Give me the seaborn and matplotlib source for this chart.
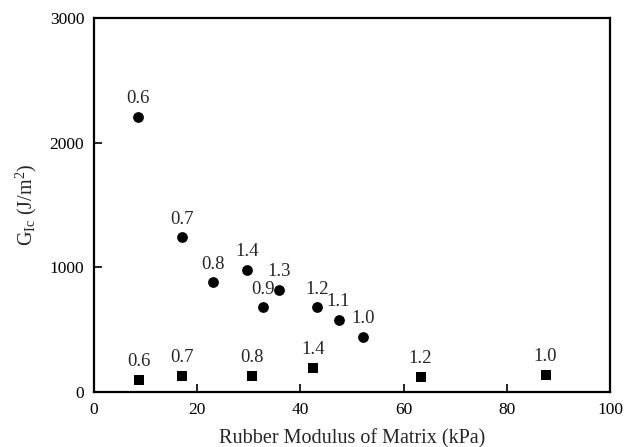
import matplotlib
matplotlib.use("Agg")
import matplotlib.pyplot as plt
import seaborn as sns
import pandas as pd

sns.set_theme(style="ticks")
plt.rcParams["font.family"] = ["Liberation Serif", "DejaVu Serif"]
plt.rcParams["mathtext.fontset"] = "custom"
plt.rcParams["mathtext.rm"] = "Liberation Serif"
plt.rcParams["mathtext.it"] = "Liberation Serif:italic"

# Circle series: modulus (kPa), G_Ic (J/m^2), labels
circle_modulus = [8.5, 17.0, 23.0, 29.6, 35.9, 32.8, 43.3, 47.4, 52.2]
circle_glc = [2205, 1240, 880, 978, 818, 680, 680, 577, 443]
circle_labels = ["0.6", "0.7", "0.8", "1.4", "1.3", "0.9", "1.2", "1.1", "1.0"]

# Square series
square_modulus = [8.8, 17.1, 30.6, 42.4, 63.3, 87.5]
square_glc = [95, 131, 131, 195, 123, 139]
square_labels = ["0.6", "0.7", "0.8", "1.4", "1.2", "1.0"]

circles = pd.DataFrame({"x": circle_modulus, "y": circle_glc, "lab": circle_labels})
squares = pd.DataFrame({"x": square_modulus, "y": square_glc, "lab": square_labels})

fig = plt.figure(figsize=(6.36, 4.47), dpi=100)
ax = fig.add_axes([94 / 636, 1 - 392 / 447, 516 / 636, 374 / 447])

sns.scatterplot(data=circles, x="x", y="y", ax=ax, marker="o", s=60,
                color="black", edgecolor="black", linewidth=0)
sns.scatterplot(data=squares, x="x", y="y", ax=ax, marker="s", s=55,
                color="black", edgecolor="black", linewidth=0)

for df in (circles, squares):
    for _, r in df.iterrows():
        ax.annotate(r["lab"], (r["x"], r["y"]), xytext=(0, 7),
                    textcoords="offset points", ha="center", va="bottom",
                    fontsize=13.5)

ax.set_xlim(0, 100)
ax.set_ylim(0, 3000)
ax.set_xticks([0, 20, 40, 60, 80, 100])
ax.set_yticks([0, 1000, 2000, 3000])
ax.tick_params(direction="in", length=6, width=1.2, labelsize=12.5,
               top=False, right=False, colors="black", pad=7)
for sp in ax.spines.values():
    sp.set_linewidth(1.6)
    sp.set_color("black")

ax.set_xlabel("Rubber Modulus of Matrix (kPa)", fontsize=14.5, labelpad=8)
ax.set_ylabel(r"G$_{\rm Ic}$ (J/m$^2$)", fontsize=14.5, labelpad=8)

fig.savefig("out.png", dpi=100)
